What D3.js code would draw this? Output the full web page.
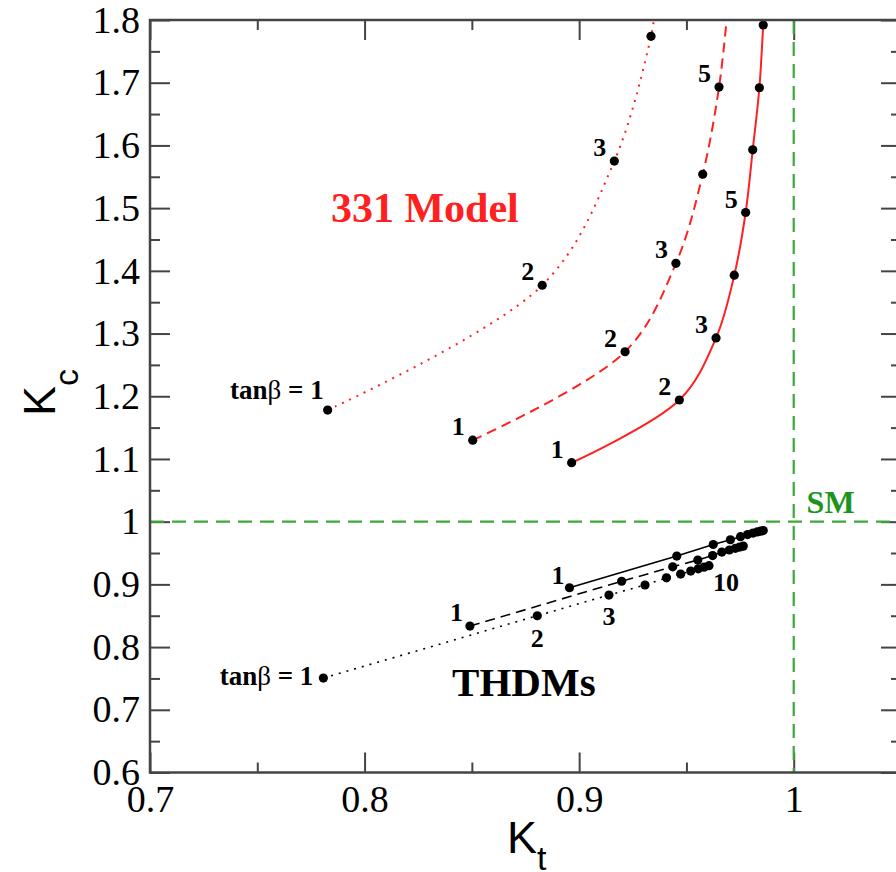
<!DOCTYPE html>
<html>
<head>
<meta charset="utf-8">
<script src="https://cdn.jsdelivr.net/npm/d3@7"></script>
<style>
  html, body { margin:0; padding:0; background:#fff; }
  svg { display:block; font-family:"Liberation Serif","Times New Roman",serif; }
</style>
</head>
<body>
<svg id="chart" width="896" height="872"></svg>
<script>
/* ---------- axis ticks ---------- */
const xMajor = [0.7, 0.8, 0.9, 1.0];
const xLabels = ["0.7", "0.8", "0.9", "1"];
const xMinor = [0.75, 0.85, 0.95, 1.05];
const yMajor = [0.6, 0.7, 0.8, 0.9, 1.0, 1.1, 1.2, 1.3, 1.4, 1.5, 1.6, 1.7, 1.8];
const yLabels = ["0.6","0.7","0.8","0.9","1","1.1","1.2","1.3","1.4","1.5","1.6","1.7","1.8"];
const yMinor = [0.65, 0.75, 0.85, 0.95, 1.05, 1.15, 1.25, 1.35, 1.45, 1.55, 1.65, 1.75];

/* ---------- 331 model (red) ---------- */
const m331SolidKt  = [0.8965, 0.9467, 0.9638, 0.9723, 0.9776, 0.9809, 0.9840, 0.9858];
const m331SolidKc  = [1.094, 1.194, 1.293, 1.393, 1.493, 1.593, 1.692, 1.792];
const m331SolidTail = [0.9862, 1.81];
const m331DashedKt = [0.8504, 0.9214, 0.9451, 0.9576, 0.9652];
const m331DashedKc = [1.130, 1.271, 1.412, 1.554, 1.693];
const m331DashedTail = [0.9690, 1.81];
const m331DottedKt = [0.7828, 0.8828, 0.9164, 0.9335];
const m331DottedKc = [1.178, 1.377, 1.575, 1.774];
const m331DottedTail = [0.9352, 1.81];

/* ---------- THDMs (black), tanβ = 1..10 ---------- */
const thdmSolidKt  = [0.8955, 0.9455, 0.9625, 0.9705, 0.9752, 0.9785, 0.9810, 0.9830, 0.9846, 0.9858];
const thdmSolidKc  = [0.8946, 0.9451, 0.9636, 0.9712, 0.9760, 0.9794, 0.9818, 0.9836, 0.9849, 0.9858];
const thdmDashedKt = [0.8491, 0.9198, 0.9436, 0.9553, 0.9622, 0.9665, 0.9700, 0.9728, 0.9748, 0.9765];
const thdmDashedKc = [0.8335, 0.9050, 0.9280, 0.9388, 0.9460, 0.9515, 0.9548, 0.9575, 0.9595, 0.9610];
const thdmDottedKt = [0.7808, 0.8805, 0.9139, 0.9307, 0.9407, 0.9473, 0.9520, 0.9555, 0.9582, 0.9605];
const thdmDottedKc = [0.7506, 0.8500, 0.8830, 0.8990, 0.9105, 0.9164, 0.9212, 0.9248, 0.9275, 0.9298];

/* ---------- point labels: [series, index, text] ---------- */
const m331Labels = [
  ["dotted", 1, "2"], ["dotted", 2, "3"],
  ["dashed", 0, "1"], ["dashed", 1, "2"], ["dashed", 2, "3"], ["dashed", 4, "5"],
  ["solid", 0, "1"], ["solid", 1, "2"], ["solid", 2, "3"], ["solid", 4, "5"]
];

const P = { l:150, r:901, t:20, b:772.5 };
const RED = "#ff2020", GREEN = "#3aaa3a", GREEN_TXT = "#1c951c", AXIS = "#444";
const SERIF = '"Liberation Serif","Times New Roman",serif';
const SANS = '"Liberation Sans",Arial,sans-serif';

const svg = d3.select("#chart");
const x = d3.scaleLinear().domain([0.7, 1.05]).range([P.l, P.r]);
const y = d3.scaleLinear().domain([0.6, 1.8]).range([P.b, P.t]);

const zip = (a, b) => a.map((v, i) => [v, b[i]]);

svg.append("defs").append("clipPath").attr("id", "plotClip")
  .append("rect").attr("x", P.l).attr("y", P.t).attr("width", P.r - P.l).attr("height", P.b - P.t);

/* ---------- axes (inward ticks on all four sides) ---------- */
function styleAxis(g){
  g.attr("font-family", SERIF).attr("font-size", 38);
  g.select(".domain").remove();
  g.selectAll(".tick line").attr("stroke", AXIS).attr("stroke-width", 2);
  g.selectAll(".tick text").attr("fill", "#000");
}
function addAxis(axisFn, scale, ticks, len, fmt, transform, pad){
  const ax = axisFn(scale).tickValues(ticks).tickSize(-len).tickPadding(pad || 0)
    .tickFormat(fmt ? (d, i) => fmt[i] : "");
  svg.append("g").attr("transform", transform).call(ax).call(styleAxis);
}
addAxis(d3.axisBottom, x, xMajor, 20, xLabels, `translate(0,${P.b})`, 12.5);
addAxis(d3.axisBottom, x, xMinor, 10, null, `translate(0,${P.b})`);
addAxis(d3.axisTop, x, xMajor, 20, null, `translate(0,${P.t})`);
addAxis(d3.axisTop, x, xMinor, 10, null, `translate(0,${P.t})`);
addAxis(d3.axisLeft, y, yMajor, 20, yLabels, `translate(${P.l},0)`, 10);
addAxis(d3.axisLeft, y, yMinor, 10, null, `translate(${P.l},0)`);
addAxis(d3.axisRight, y, yMajor, 20, null, `translate(${P.r},0)`);
addAxis(d3.axisRight, y, yMinor, 10, null, `translate(${P.r},0)`);

/* ---------- SM reference lines ---------- */
const plot = svg.append("g").attr("clip-path", "url(#plotClip)");
plot.append("line").attr("x1", x(0.7)).attr("x2", x(1.05)).attr("y1", y(1)).attr("y2", y(1))
  .attr("stroke", GREEN).attr("stroke-width", 2.2).attr("stroke-dasharray", "14,8");
plot.append("line").attr("x1", x(1)).attr("x2", x(1)).attr("y1", y(1.8)).attr("y2", y(0.6))
  .attr("stroke", GREEN).attr("stroke-width", 2.2).attr("stroke-dasharray", "14,8");

/* ---------- curves ---------- */
const smooth = d3.line().x(d => x(d[0])).y(d => y(d[1])).curve(d3.curveCatmullRom.alpha(0.5));
const straight = d3.line().x(d => x(d[0])).y(d => y(d[1]));

const m331 = {
  solid:  { pts: zip(m331SolidKt, m331SolidKc),   tail: m331SolidTail,  dash: null },
  dashed: { pts: zip(m331DashedKt, m331DashedKc), tail: m331DashedTail, dash: "10,6" },
  dotted: { pts: zip(m331DottedKt, m331DottedKc), tail: m331DottedTail, dash: "2,6" }
};
const thdm = {
  solid:  { pts: zip(thdmSolidKt, thdmSolidKc),   dash: null },
  dashed: { pts: zip(thdmDashedKt, thdmDashedKc), dash: "10,6" },
  dotted: { pts: zip(thdmDottedKt, thdmDottedKc), dash: "2,6" }
};

Object.values(m331).forEach(s => {
  plot.append("path").attr("d", smooth(s.pts.concat([s.tail])))
    .attr("fill", "none").attr("stroke", RED).attr("stroke-width", 2)
    .attr("stroke-dasharray", s.dash);
});
Object.values(thdm).forEach(s => {
  plot.append("path").attr("d", straight(s.pts))
    .attr("fill", "none").attr("stroke", "#000").attr("stroke-width", 1.6)
    .attr("stroke-dasharray", s.dash);
});

/* dots */
[m331, thdm].forEach(group => Object.values(group).forEach(s => {
  plot.selectAll(null).data(s.pts).join("circle")
    .attr("cx", d => x(d[0])).attr("cy", d => y(d[1])).attr("r", 4.6).attr("fill", "#000");
}));

/* ---------- point labels ---------- */
const lab = svg.append("g").attr("font-weight", 700).attr("font-size", 26).attr("fill", "#000");
function label(pt, txt, dx, dy, anchor){
  lab.append("text").attr("x", x(pt[0]) + dx).attr("y", y(pt[1]) + dy)
    .attr("text-anchor", anchor || "end").text(txt);
}
function tanbLabel(pt, dx, dy){
  const t = lab.append("text").attr("x", x(pt[0]) + dx).attr("y", y(pt[1]) + dy)
    .attr("text-anchor", "end").attr("font-size", 27);
  t.append("tspan").text("tan");
  t.append("tspan").attr("font-weight", 400).text("β");
  t.append("tspan").text(" = 1");
}
m331Labels.forEach(([s, i, t]) => label(m331[s].pts[i], t, -8, -5));
tanbLabel(m331.dotted.pts[0], -4, -11);

label(thdm.dashed.pts[0], "1", -7, -5);
label(thdm.solid.pts[0], "1", -5, -4);
label(thdm.dotted.pts[1], "2", 0, 31, "middle");
label(thdm.dotted.pts[2], "3", 0, 30, "middle");
label(thdm.dotted.pts[9], "10", 17, 25, "middle");
tanbLabel(thdm.dotted.pts[0], -10, 7);

/* ---------- region labels ---------- */
svg.append("text").attr("x", x(0.7843)).attr("y", y(1.478)).attr("font-size", 42).attr("font-weight", 700)
  .attr("fill", RED).text("331 Model");
svg.append("text").attr("x", x(0.8408)).attr("y", y(0.722)).attr("font-size", 41).attr("font-weight", 700)
  .attr("fill", "#000").text("THDMs");
svg.append("text").attr("x", x(1.006)).attr("y", y(1.0135)).attr("font-size", 32).attr("font-weight", 700)
  .attr("fill", GREEN_TXT).text("SM");

/* ---------- axis titles (sans) ---------- */
const xt = svg.append("text").attr("x", 507).attr("y", 853)
  .attr("font-family", SANS).attr("font-size", 45).attr("fill", "#000");
xt.append("tspan").text("K");
xt.append("tspan").attr("dy", 17).attr("font-size", 34).text("t");

const yt = svg.append("text").attr("transform", "translate(55,416) rotate(-90)")
  .attr("font-family", SANS).attr("font-size", 45).attr("fill", "#000");
yt.append("tspan").text("K");
yt.append("tspan").attr("dy", 23).attr("font-size", 34).text("c");

/* ---------- frame ---------- */
svg.append("rect").attr("x", P.l).attr("y", P.t).attr("width", P.r - P.l).attr("height", P.b - P.t)
  .attr("fill", "none").attr("stroke", AXIS).attr("stroke-width", 2.5);
</script>
</body>
</html>
